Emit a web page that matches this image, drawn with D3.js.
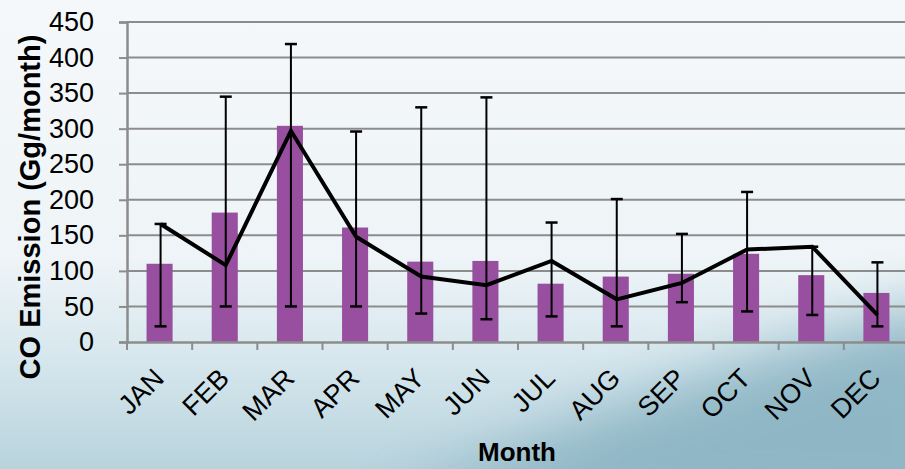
<!DOCTYPE html>
<html>
<head>
<meta charset="utf-8">
<script src="https://cdn.jsdelivr.net/npm/d3@7"></script>
<style>
  html, body { margin: 0; padding: 0; overflow: hidden; }
  svg { display: block; font-family: "Liberation Sans", Arial, sans-serif; }
</style>
</head>
<body>
<svg id="chart" width="905" height="469"></svg>
<script>
// Monthly CO emission: mean bars, second estimate as line, min–max range as error bars
const months = ["JAN", "FEB", "MAR", "APR", "MAY", "JUN", "JUL", "AUG", "SEP", "OCT", "NOV", "DEC"];
const barValues = [110, 182, 304, 161, 113, 114, 82, 92, 96, 124, 94, 69];
const lineValues = [166, 108, 297, 148, 92, 80, 114, 60, 83, 130, 134, 38];
const errHigh = [166, 345, 419, 296, 330, 344, 168, 201, 152, 211, 134, 112];
const errLow = [22, 50, 50, 50, 40, 32, 36, 22, 56, 43, 38, 22];
const yTicks = [0, 50, 100, 150, 200, 250, 300, 350, 400, 450];

const W = 905, H = 469;
const svg = d3.select("#chart");

// slide-style background
const defs = svg.append("defs");
const bg = defs.append("linearGradient").attr("id", "bg")
  .attr("x1", "0").attr("y1", "0").attr("x2", "0").attr("y2", "1");
bg.append("stop").attr("offset", "0").attr("stop-color", "#f5f8fa");
bg.append("stop").attr("offset", "0.55").attr("stop-color", "#eef4f7");
bg.append("stop").attr("offset", "0.75").attr("stop-color", "#d8e8ee");
bg.append("stop").attr("offset", "1").attr("stop-color", "#b8d3dd");
svg.append("rect").attr("width", W).attr("height", H).attr("fill", "url(#bg)");

defs.append("filter").attr("id", "soft")
  .attr("x", "-20%").attr("y", "-20%").attr("width", "140%").attr("height", "140%")
  .append("feGaussianBlur").attr("stdDeviation", 30);
svg.append("path")
  .attr("d", `M380,${H + 40} C560,430 720,360 ${W + 60},300 L${W + 60},${H + 60} Z`)
  .attr("fill", "#8db5c4").attr("opacity", 0.95).attr("filter", "url(#soft)");

const x = d3.scaleBand().domain(months).range([127, 909]).paddingInner(0).paddingOuter(0);
const y = d3.scaleLinear().domain([0, 450]).range([342, 22]);

// gridlines
svg.append("g").selectAll("line").data(yTicks.filter(d => d > 0)).join("line")
  .attr("x1", 127).attr("x2", 909)
  .attr("y1", d => y(d)).attr("y2", d => y(d))
  .attr("stroke", "#8c8c8c").attr("stroke-width", 2);

// bars
const bw = x.bandwidth() * 0.4;
svg.append("g").selectAll("rect").data(months).join("rect")
  .attr("x", (d) => x(d) + x.bandwidth() / 2 - bw / 2)
  .attr("width", bw)
  .attr("y", (d, i) => y(barValues[i]))
  .attr("height", (d, i) => y(0) - y(barValues[i]))
  .attr("fill", "#984fa0");

// axes
const yAxis = svg.append("g").attr("transform", "translate(127,0)")
  .call(d3.axisLeft(y).tickValues(yTicks).tickSize(8).tickPadding(25));
yAxis.select(".domain").attr("stroke", "#8c8c8c").attr("stroke-width", 2.5);
yAxis.selectAll(".tick line").attr("stroke", "#8c8c8c").attr("stroke-width", 2);
yAxis.selectAll(".tick text").attr("font-size", 27).attr("fill", "#000")
  .attr("font-family", "Liberation Sans, Arial, sans-serif");

const xAxis = svg.append("g").attr("transform", "translate(0,342)")
  .call(d3.axisBottom(x).tickSize(0).tickSizeOuter(0));
xAxis.select(".domain").attr("stroke", "#8c8c8c").attr("stroke-width", 2.5);
xAxis.selectAll(".tick line").remove();
// category boundary ticks
svg.append("g").selectAll("line").data(d3.range(months.length + 1)).join("line")
  .attr("x1", i => 127 + i * x.bandwidth()).attr("x2", i => 127 + i * x.bandwidth())
  .attr("y1", 342).attr("y2", 350)
  .attr("stroke", "#8c8c8c").attr("stroke-width", 2);
xAxis.selectAll(".tick text")
  .attr("font-size", 27).attr("fill", "#000")
  .attr("font-family", "Liberation Sans, Arial, sans-serif")
  .attr("text-anchor", "end")
  .attr("dy", null)
  .attr("y", 0)
  .attr("transform", "translate(6,38) rotate(-45)");

// error bars
const eb = svg.append("g").attr("stroke", "#000").attr("stroke-width", 2);
months.forEach((m, i) => {
  const cx = x(m) + x.bandwidth() / 2 + 1;
  eb.append("line").attr("x1", cx).attr("x2", cx).attr("y1", y(errLow[i])).attr("y2", y(errHigh[i]));
  eb.append("line").attr("x1", cx - 6).attr("x2", cx + 6).attr("y1", y(errLow[i])).attr("y2", y(errLow[i])).attr("stroke-width", 2.5);
  eb.append("line").attr("x1", cx - 6).attr("x2", cx + 6).attr("y1", y(errHigh[i])).attr("y2", y(errHigh[i])).attr("stroke-width", 2.5);
});

// line series
const line = d3.line()
  .x((d, i) => x(months[i]) + x.bandwidth() / 2 + 1)
  .y(d => y(d));
svg.append("path").datum(lineValues).attr("d", line)
  .attr("fill", "none").attr("stroke", "#000").attr("stroke-width", 4)
  .attr("stroke-linejoin", "miter");

// axis titles
svg.append("text")
  .attr("transform", "translate(40,207) rotate(-90)")
  .attr("text-anchor", "middle")
  .attr("font-size", 29).attr("font-weight", "bold")
  .text("CO Emission (Gg/month)");
svg.append("text")
  .attr("x", 517).attr("y", 461)
  .attr("text-anchor", "middle")
  .attr("font-size", 26).attr("font-weight", "bold")
  .text("Month");
</script>
</body>
</html>
